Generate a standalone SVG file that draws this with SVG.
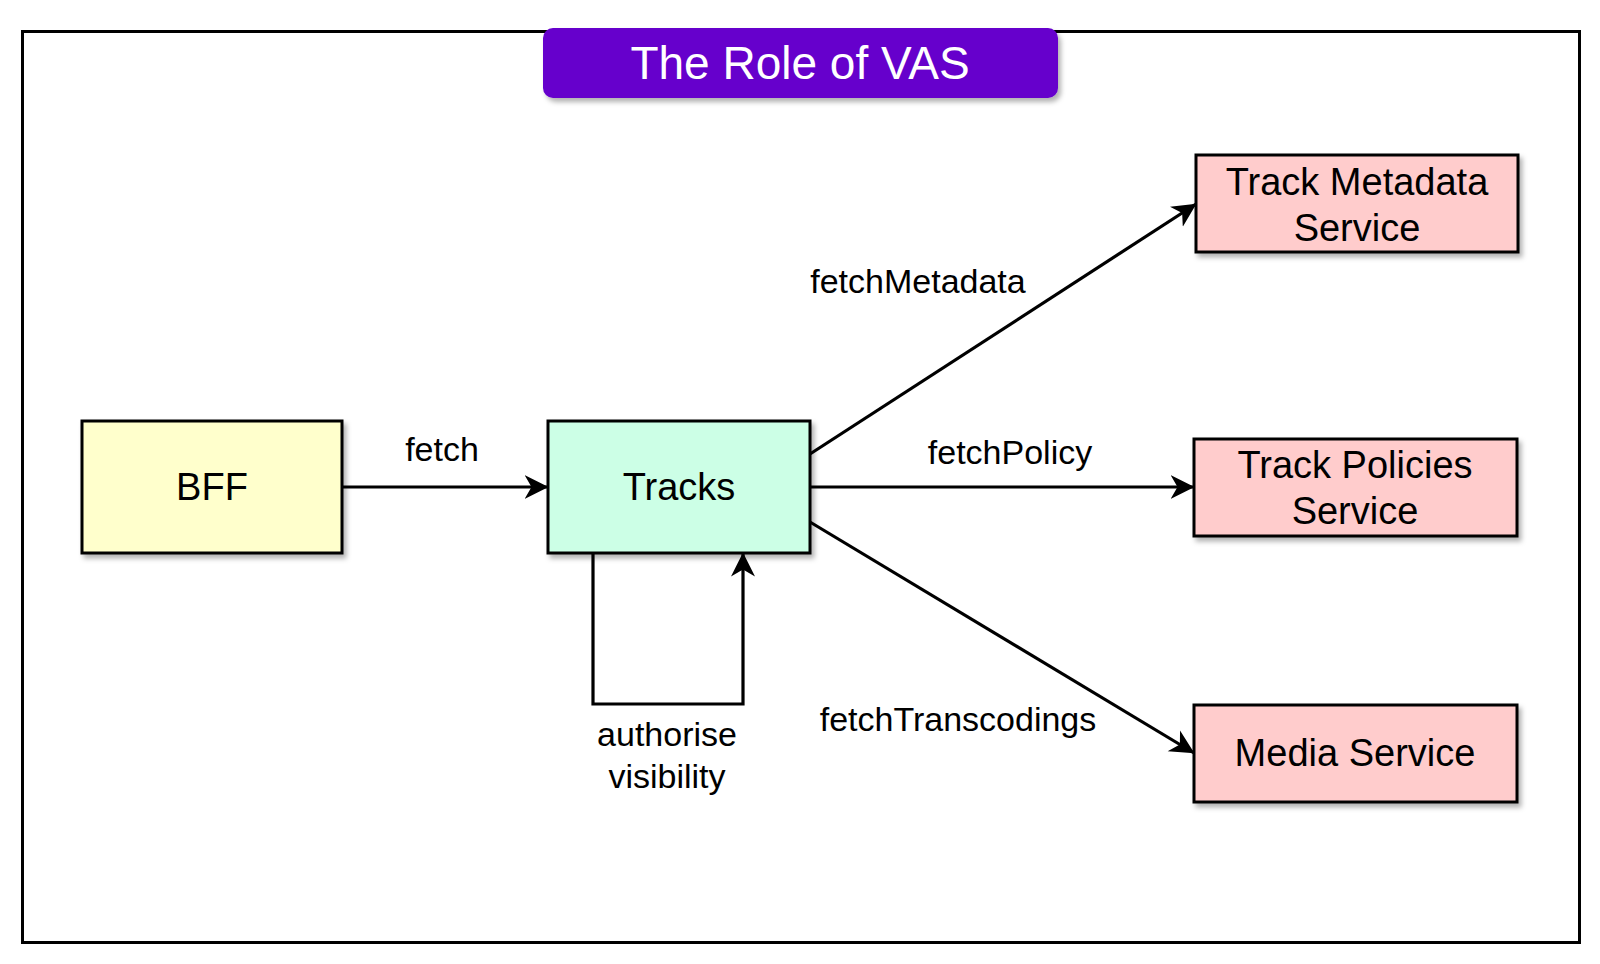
<svg xmlns="http://www.w3.org/2000/svg" width="1600" height="964" viewBox="0 0 1600 964">
<defs>
<filter id="sh" x="-10%" y="-10%" width="130%" height="140%">
<feDropShadow dx="3" dy="4" stdDeviation="2.5" flood-color="#000" flood-opacity="0.3"/>
</filter>
<marker id="arr" markerUnits="userSpaceOnUse" markerWidth="24" markerHeight="26" viewBox="0 0 24 26" refX="23.5" refY="13" orient="auto">
<path d="M0,1 L24,13 L0,25 L7,13 Z" fill="#000"/>
</marker>
<style>
.node{stroke:#000;stroke-width:3;filter:url(#sh)}
.nt{font-family:"Liberation Sans",Arial,Helvetica,sans-serif;font-size:38px;fill:#000;text-anchor:middle}
.lb{font-family:"Liberation Sans",Arial,Helvetica,sans-serif;font-size:34px;fill:#000;text-anchor:middle}
.edge{fill:none;stroke:#000;stroke-width:3.2;marker-end:url(#arr)}
</style>
</defs>
<rect width="1600" height="964" fill="#fff"/>
<rect id="frame" x="22.5" y="31.5" width="1557" height="911" fill="none" stroke="#000" stroke-width="3"/>
<g id="title">
<rect x="543" y="28" width="515" height="70" rx="10" fill="#6600CC" filter="url(#sh)"/>
<text x="800" y="79" font-family="Liberation Sans,Arial,Helvetica,sans-serif" font-size="46" fill="#fff" text-anchor="middle">The Role of VAS</text>
</g>
<g id="connectors">
<line class="edge" x1="342" y1="487" x2="548" y2="487"/>
<text class="lb" x="442" y="461">fetch</text>
<line class="edge" x1="810" y1="454" x2="1196" y2="204"/>
<text class="lb" x="918" y="293">fetchMetadata</text>
<line class="edge" x1="810" y1="487" x2="1194" y2="487"/>
<text class="lb" x="1010" y="464">fetchPolicy</text>
<line class="edge" x1="810" y1="522" x2="1194" y2="753"/>
<text class="lb" x="958" y="731">fetchTranscodings</text>
<path class="edge" d="M593,553 L593,704 L743,704 L743,553"/>
<text class="lb" x="667" y="746">authorise</text>
<text class="lb" x="667" y="788">visibility</text>
</g>
<g id="bff">
<rect class="node" x="82" y="421" width="260" height="132" fill="#FFFFCC"/>
<text class="nt" x="212" y="500">BFF</text>
</g>
<g id="tracks">
<rect class="node" x="548" y="421" width="262" height="132" fill="#CCFFE6"/>
<text class="nt" x="679" y="500">Tracks</text>
</g>
<g id="metadata">
<rect class="node" x="1196" y="155" width="322" height="97" fill="#FFCCCC"/>
<text class="nt" x="1357" y="195">Track Metadata</text>
<text class="nt" x="1357" y="241">Service</text>
</g>
<g id="policies">
<rect class="node" x="1194" y="439" width="323" height="97" fill="#FFCCCC"/>
<text class="nt" x="1355" y="478">Track Policies</text>
<text class="nt" x="1355" y="524">Service</text>
</g>
<g id="media">
<rect class="node" x="1194" y="705" width="323" height="97" fill="#FFCCCC"/>
<text class="nt" x="1355" y="766">Media Service</text>
</g>
</svg>
